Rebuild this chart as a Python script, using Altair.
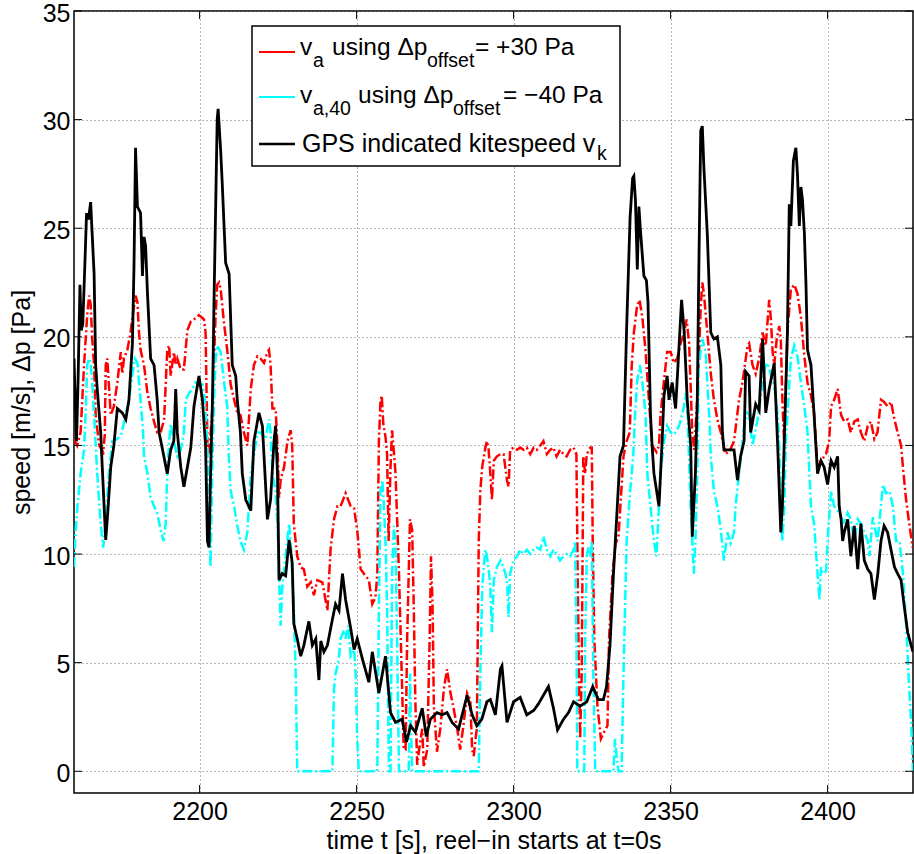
import altair as alt
import pandas as pd

# ---------------- data ----------------
# v_a using dp_offset = +30 Pa   [time t (s), speed (m/s)]
red = [
    [2160.0, 15.3], [2161.0, 15.0], [2162.1, 15.6], [2163.2, 18.7], [2164.2, 21.0], [2164.8, 21.9],
    [2165.3, 21.5], [2165.8, 19.9], [2166.4, 18.7], [2166.9, 16.4], [2168.0, 15.0], [2169.3, 14.7],
    [2169.8, 15.5], [2170.1, 18.7], [2170.6, 19.0], [2171.7, 16.4], [2172.7, 16.8], [2173.8, 17.9],
    [2174.9, 19.3], [2175.4, 18.3], [2175.9, 19.0], [2177.0, 19.4], [2178.0, 20.2], [2179.1, 21.4],
    [2179.6, 21.9], [2180.2, 21.6], [2180.7, 20.2], [2181.2, 19.4], [2182.3, 18.7], [2183.4, 17.4],
    [2184.4, 16.7], [2185.5, 16.1], [2186.5, 15.6], [2187.6, 15.6], [2188.7, 16.2], [2189.7, 19.4],
    [2190.3, 19.6], [2190.8, 18.2], [2191.8, 19.3], [2192.4, 18.7], [2192.9, 19.0], [2194.0, 18.5],
    [2195.0, 18.5], [2196.1, 20.3], [2197.2, 20.7], [2198.2, 20.8], [2199.8, 21.0], [2201.4, 20.8],
    [2201.9, 20.2], [2202.5, 15.0], [2203.0, 14.6], [2204.0, 16.5], [2204.6, 19.0], [2205.1, 21.0],
    [2205.6, 22.4], [2206.2, 22.5], [2206.7, 22.2], [2207.8, 20.6], [2208.8, 19.4], [2209.9, 17.8],
    [2211.0, 17.1], [2212.0, 16.5], [2213.0, 16.4], [2214.1, 15.6], [2215.2, 15.0], [2216.3, 17.6],
    [2217.3, 18.7], [2218.4, 19.1], [2219.4, 19.0], [2220.5, 18.8], [2221.6, 19.3], [2222.1, 19.4],
    [2222.6, 18.7], [2223.2, 16.7], [2224.2, 16.7], [2224.8, 15.0], [2225.3, 12.6], [2225.8, 13.4],
    [2226.9, 14.0], [2228.0, 15.2], [2229.0, 15.7], [2229.5, 15.0], [2230.0, 11.4], [2231.1, 9.9],
    [2232.2, 9.4], [2233.2, 9.3], [2234.3, 8.5], [2235.4, 8.7], [2236.4, 8.1], [2237.5, 8.8],
    [2239.1, 8.7], [2240.7, 7.4], [2241.7, 10.2], [2242.8, 11.6], [2243.9, 12.2], [2244.9, 12.2],
    [2246.5, 12.8], [2248.1, 12.2], [2249.2, 12.1], [2250.2, 11.1], [2251.3, 9.3], [2252.3, 9.1],
    [2253.9, 8.8], [2255.0, 7.7], [2256.0, 8.0], [2256.6, 9.1], [2257.1, 15.2], [2257.6, 17.0],
    [2258.0, 17.3], [2258.5, 16.0], [2259.2, 15.4], [2259.7, 14.6], [2260.2, 10.6], [2260.8, 14.0],
    [2261.3, 15.7], [2261.6, 15.2], [2262.4, 13.7], [2263.5, 9.1], [2264.5, 3.8], [2265.0, 1.0],
    [2265.6, 1.0], [2266.1, 6.1], [2267.0, 11.6], [2267.7, 11.1], [2268.2, 7.6], [2268.7, 3.3],
    [2269.3, 0.3], [2269.8, 0.9], [2270.9, 1.95], [2271.4, 0.2], [2272.5, 1.0], [2273.3, 6.4],
    [2273.7, 9.9], [2274.2, 7.6], [2274.6, 3.0], [2275.6, 0.9], [2276.7, 2.0], [2277.8, 3.8],
    [2278.8, 4.7], [2279.9, 3.6], [2280.9, 2.9], [2282.0, 2.0], [2283.0, 1.0], [2284.1, 2.2],
    [2285.2, 3.6], [2286.2, 3.3], [2286.8, 1.0], [2287.3, 0.7], [2288.3, 2.0], [2288.9, 10.6],
    [2289.4, 12.9], [2290.0, 14.0], [2291.0, 14.9], [2291.5, 15.2], [2292.0, 14.9], [2292.6, 13.7],
    [2293.1, 12.5], [2293.7, 14.3], [2294.7, 14.5], [2295.8, 14.6], [2296.8, 14.6], [2297.9, 13.4],
    [2298.4, 13.1], [2298.9, 14.8], [2300.0, 14.9], [2301.1, 14.8], [2302.1, 14.9], [2303.2, 14.8],
    [2304.2, 14.9], [2305.3, 14.6], [2306.4, 14.9], [2307.4, 14.8], [2308.5, 15.0], [2309.5, 15.2],
    [2310.6, 14.6], [2311.7, 14.8], [2312.7, 14.9], [2313.7, 14.5], [2314.8, 14.8], [2315.9, 14.6],
    [2316.9, 14.5], [2318.0, 14.8], [2319.1, 14.9], [2320.0, 14.6], [2320.4, 9.1], [2320.8, 4.5],
    [2321.2, 1.5], [2321.7, 4.5], [2322.2, 14.5], [2322.8, 13.7], [2323.3, 14.6], [2324.4, 14.9],
    [2324.9, 14.9], [2325.2, 10.6], [2325.7, 6.1], [2326.7, 3.0], [2327.8, 1.5], [2328.8, 1.8],
    [2329.9, 2.1], [2330.4, 6.1], [2331.5, 9.1], [2332.5, 10.5], [2333.4, 10.8], [2334.0, 12.2],
    [2335.0, 14.5], [2336.0, 15.2], [2337.0, 15.6], [2337.6, 18.6], [2338.3, 20.2], [2339.3, 21.4],
    [2340.1, 21.7], [2341.0, 20.9], [2342.0, 19.4], [2343.1, 17.1], [2344.1, 15.0], [2345.5, 14.7],
    [2346.3, 15.0], [2346.8, 16.4], [2347.9, 18.0], [2348.9, 19.3], [2350.0, 19.3], [2351.1, 18.8],
    [2352.1, 19.0], [2353.2, 19.7], [2354.3, 20.2], [2355.1, 20.8], [2355.9, 19.7], [2356.9, 15.6],
    [2357.5, 14.8], [2358.5, 17.1], [2359.6, 21.4], [2360.1, 22.5], [2360.6, 22.0], [2361.7, 20.2],
    [2362.8, 18.3], [2363.8, 17.1], [2364.9, 16.2], [2366.0, 15.6], [2367.5, 14.6], [2369.0, 14.8],
    [2370.2, 15.2], [2371.8, 17.1], [2372.9, 17.9], [2374.5, 19.6], [2375.0, 19.7], [2376.1, 18.7],
    [2377.1, 18.3], [2378.2, 19.0], [2379.3, 20.2], [2380.3, 19.6], [2381.4, 21.7], [2381.9, 20.9],
    [2382.5, 19.3], [2383.0, 18.7], [2383.8, 19.9], [2384.6, 20.5], [2385.1, 19.9], [2385.6, 17.1],
    [2386.2, 15.0], [2387.2, 20.2], [2388.3, 22.2], [2389.4, 22.4], [2390.4, 22.0], [2391.5, 20.9],
    [2392.6, 19.1], [2393.6, 17.9], [2394.7, 17.3], [2395.7, 16.5], [2396.8, 14.0], [2397.9, 14.3],
    [2399.5, 14.6], [2400.5, 15.2], [2401.1, 16.8], [2402.1, 17.1], [2403.2, 17.6], [2404.3, 16.4],
    [2405.3, 16.1], [2406.4, 16.2], [2407.4, 15.6], [2408.5, 16.1], [2409.6, 16.2], [2410.6, 15.6],
    [2411.7, 15.2], [2412.8, 15.9], [2413.8, 16.1], [2414.9, 15.3], [2415.9, 15.6], [2417.0, 17.1],
    [2418.0, 17.0], [2419.1, 16.8], [2420.2, 17.0], [2421.3, 16.2], [2422.3, 15.6], [2423.4, 15.0],
    [2424.0, 14.0], [2425.0, 12.5], [2426.0, 11.4], [2427.1, 10.3],
]

# v_a,40 using dp_offset = -40 Pa
cyan = [
    [2160.0, 9.4], [2160.5, 11.0], [2161.1, 12.2], [2162.1, 13.7], [2163.2, 14.8], [2163.7, 16.5],
    [2164.2, 18.7], [2164.8, 19.0], [2165.3, 18.8], [2165.8, 17.9], [2166.4, 16.4], [2167.4, 13.7],
    [2168.5, 11.4], [2169.3, 10.3], [2170.1, 11.4], [2171.1, 13.7], [2172.2, 15.2], [2173.8, 15.3],
    [2175.0, 15.5], [2176.5, 16.4], [2177.5, 17.1], [2178.6, 18.3], [2179.4, 19.0], [2180.2, 18.8],
    [2180.7, 17.9], [2181.2, 17.1], [2182.0, 15.6], [2182.3, 14.5], [2183.4, 13.7], [2184.4, 12.6],
    [2185.5, 12.2], [2186.5, 11.9], [2187.6, 11.1], [2188.5, 10.6], [2189.2, 11.4], [2189.7, 13.7],
    [2190.3, 15.2], [2190.8, 16.0], [2191.8, 15.2], [2192.9, 14.5], [2194.0, 14.8], [2195.0, 15.6],
    [2195.6, 17.1], [2196.6, 17.4], [2197.7, 17.6], [2198.7, 17.9], [2199.8, 17.8], [2200.9, 17.8],
    [2201.7, 17.1], [2202.5, 15.0], [2203.0, 11.0], [2203.5, 9.4], [2204.0, 13.7], [2204.6, 17.1],
    [2205.1, 19.0], [2205.6, 19.6], [2206.7, 19.3], [2207.8, 17.9], [2208.8, 16.8], [2209.3, 14.5],
    [2209.9, 12.9], [2211.0, 12.2], [2212.0, 11.3], [2213.0, 10.6], [2214.1, 10.2], [2215.2, 11.0],
    [2215.7, 12.2], [2216.3, 13.7], [2217.3, 14.5], [2218.0, 15.2], [2218.4, 15.6], [2219.4, 15.6],
    [2221.0, 15.3], [2222.1, 16.2], [2222.6, 15.6], [2223.2, 13.7], [2224.2, 12.9], [2224.8, 11.4],
    [2225.8, 6.7], [2226.3, 8.4], [2227.4, 9.9], [2228.5, 11.4], [2229.0, 10.6], [2230.0, 7.6],
    [2230.6, 4.5], [2231.1, 0.0], [2242.3, 0.0], [2242.8, 3.8], [2243.3, 4.5], [2243.9, 4.85],
    [2244.4, 5.3], [2244.9, 6.1], [2246.0, 6.5], [2246.5, 6.1], [2247.3, 6.7], [2248.1, 5.3],
    [2249.2, 5.6], [2249.7, 4.5], [2250.2, 1.5], [2250.7, 0.0], [2256.6, 0.0], [2257.1, 7.6],
    [2257.6, 12.9], [2258.2, 13.4], [2258.7, 12.2], [2259.2, 10.6], [2259.7, 7.6], [2260.3, 0.0],
    [2260.8, 0.0], [2261.3, 9.1], [2261.9, 11.3], [2262.4, 10.3], [2262.9, 6.1], [2263.5, 0.0],
    [2266.6, 0.0], [2267.0, 4.5], [2267.3, 2.3], [2267.7, 0.0], [2288.9, 0.0], [2289.4, 4.5],
    [2290.0, 8.4], [2290.5, 9.4], [2291.0, 10.2], [2291.5, 9.9], [2292.0, 9.4], [2292.6, 8.4],
    [2293.1, 6.4], [2293.7, 8.8], [2294.7, 9.4], [2295.8, 9.7], [2296.8, 9.4], [2297.9, 8.8],
    [2298.4, 7.1], [2298.9, 9.1], [2300.0, 9.7], [2301.1, 9.9], [2302.1, 10.2], [2303.2, 10.0],
    [2304.2, 10.2], [2305.3, 10.0], [2306.4, 10.2], [2307.4, 10.3], [2308.5, 10.2], [2309.5, 10.8],
    [2310.6, 10.2], [2311.7, 9.9], [2312.7, 10.2], [2313.7, 10.0], [2314.8, 9.7], [2315.9, 9.9],
    [2316.9, 10.0], [2318.0, 9.9], [2319.1, 10.2], [2319.6, 10.6], [2320.1, 4.5], [2320.3, 0.0],
    [2322.5, 0.0], [2322.8, 6.1], [2323.3, 9.9], [2323.8, 10.3], [2324.4, 9.9], [2324.9, 10.6],
    [2325.4, 4.5], [2326.0, 0.0], [2331.8, 0.0], [2332.3, 1.5], [2332.8, 0.7], [2333.4, 0.0],
    [2334.4, 0.0], [2335.0, 4.5], [2336.0, 10.6], [2337.1, 12.9], [2338.1, 14.5], [2338.6, 16.2],
    [2339.3, 17.9], [2340.2, 18.7], [2341.0, 17.9], [2342.0, 16.5], [2342.6, 13.7], [2343.6, 12.2],
    [2344.7, 10.6], [2345.5, 9.9], [2346.3, 12.2], [2346.8, 13.7], [2347.9, 15.2], [2348.9, 15.9],
    [2350.0, 15.6], [2351.1, 15.5], [2352.7, 15.9], [2354.3, 16.8], [2354.8, 17.4], [2355.3, 16.8],
    [2356.4, 12.2], [2357.4, 9.1], [2357.9, 10.6], [2358.5, 13.7], [2359.0, 18.7], [2360.1, 19.9],
    [2361.2, 19.3], [2361.7, 17.9], [2362.3, 16.4], [2362.8, 14.5], [2363.8, 12.9], [2364.9, 12.2],
    [2366.0, 11.1], [2367.0, 9.7], [2368.1, 11.0], [2369.1, 10.5], [2370.2, 11.0], [2370.7, 12.2],
    [2371.8, 13.7], [2372.9, 15.2], [2373.4, 15.9], [2374.5, 16.5], [2375.0, 16.4], [2376.1, 15.0],
    [2377.7, 16.2], [2379.3, 17.9], [2380.3, 18.7], [2380.9, 18.8], [2382.0, 18.2], [2383.0, 17.8],
    [2384.1, 16.4], [2384.6, 15.0], [2385.1, 12.2], [2385.6, 10.6], [2386.2, 12.2], [2386.7, 15.2],
    [2387.2, 16.4], [2388.3, 19.0], [2389.4, 19.6], [2390.4, 19.1], [2391.5, 17.9], [2392.6, 16.8],
    [2393.6, 15.6], [2394.2, 13.7], [2394.7, 12.2], [2395.7, 11.4], [2396.8, 9.1], [2397.4, 7.9],
    [2397.9, 9.4], [2398.4, 9.1], [2399.5, 9.2], [2400.0, 10.6], [2401.1, 12.9], [2402.1, 12.2],
    [2403.2, 12.0], [2404.3, 11.7], [2405.3, 11.4], [2406.4, 11.9], [2407.4, 11.6], [2408.5, 10.6],
    [2409.6, 11.6], [2410.6, 11.4], [2411.7, 11.0], [2412.8, 10.6], [2413.3, 9.9], [2414.4, 11.7],
    [2415.9, 10.6], [2417.0, 12.2], [2417.6, 13.2], [2418.6, 12.8], [2419.7, 12.9], [2420.8, 12.2],
    [2421.8, 10.6], [2422.9, 10.6], [2424.0, 9.1], [2425.0, 6.8], [2425.5, 5.3], [2426.0, 3.8],
    [2426.6, 2.3], [2427.2, 0.0],
]

# GPS indicated kitespeed v_k
black = [
    [2160.0, 19.0], [2160.4, 17.0], [2160.8, 15.2], [2161.3, 18.0], [2161.9, 22.4], [2162.3, 20.3],
    [2162.8, 20.6], [2163.5, 23.5], [2164.0, 25.7], [2164.6, 25.4], [2165.3, 26.2], [2165.7, 25.0],
    [2166.4, 22.9], [2166.9, 18.7], [2167.4, 17.6], [2168.5, 15.6], [2169.0, 14.0], [2170.1, 10.65],
    [2170.8, 12.0], [2171.7, 14.0], [2172.7, 15.0], [2173.8, 16.7], [2175.4, 16.5], [2176.5, 16.2],
    [2177.5, 17.1], [2178.6, 19.7], [2179.1, 23.2], [2179.6, 28.7], [2180.2, 26.0], [2181.2, 25.7],
    [2181.8, 22.8], [2182.3, 24.6], [2182.8, 24.2], [2183.4, 22.0], [2184.4, 19.0], [2185.5, 18.7],
    [2186.5, 17.1], [2187.1, 15.6], [2188.2, 14.8], [2189.7, 13.7], [2190.8, 14.8], [2191.8, 15.2],
    [2192.4, 17.6], [2192.9, 15.6], [2194.0, 14.0], [2195.0, 13.1], [2196.1, 14.0], [2197.2, 14.9],
    [2198.2, 16.8], [2199.8, 18.2], [2200.9, 17.1], [2201.9, 15.0], [2202.5, 10.6], [2203.0, 10.3],
    [2203.5, 13.7], [2204.1, 17.1], [2204.6, 21.7], [2205.6, 30.0], [2205.9, 30.5], [2206.7, 28.6],
    [2207.2, 27.1], [2208.3, 23.4], [2209.4, 22.9], [2210.4, 18.7], [2211.5, 18.2], [2212.0, 17.1],
    [2213.0, 15.6], [2213.6, 13.7], [2214.7, 12.5], [2216.3, 12.0], [2217.3, 15.2], [2218.9, 16.5],
    [2220.0, 15.9], [2221.6, 11.6], [2222.6, 12.5], [2223.7, 15.2], [2224.2, 15.9], [2224.8, 13.7],
    [2225.3, 8.8], [2226.3, 9.1], [2227.4, 9.0], [2228.5, 10.65], [2229.5, 9.6], [2230.0, 6.8],
    [2231.1, 6.1], [2232.2, 5.3], [2233.2, 5.8], [2234.8, 6.9], [2235.9, 5.8], [2237.0, 6.1],
    [2238.0, 4.2], [2238.6, 6.0], [2239.6, 5.5], [2240.7, 5.8], [2242.3, 7.0], [2243.3, 7.7],
    [2244.4, 7.4], [2245.5, 9.1], [2246.5, 7.9], [2248.1, 6.6], [2249.2, 5.6], [2250.2, 6.1],
    [2251.8, 5.2], [2253.9, 4.1], [2255.0, 5.5], [2257.1, 3.6], [2259.2, 5.3], [2260.8, 2.7],
    [2262.4, 2.25], [2264.5, 2.4], [2265.9, 1.35], [2267.2, 2.1], [2268.7, 1.8], [2270.9, 2.9],
    [2272.2, 1.6], [2273.5, 2.4], [2275.6, 2.7], [2277.2, 2.6], [2278.8, 2.7], [2280.4, 2.25],
    [2282.5, 1.95], [2285.2, 3.5], [2286.8, 2.6], [2288.3, 2.1], [2289.9, 2.4], [2291.5, 3.2],
    [2292.6, 3.3], [2294.2, 2.6], [2295.8, 4.7], [2296.3, 4.85], [2297.9, 2.25], [2300.0, 3.2],
    [2302.1, 3.4], [2304.2, 2.6], [2306.4, 2.8], [2307.9, 3.1], [2309.5, 3.5], [2311.1, 3.9],
    [2312.7, 2.9], [2314.0, 1.9], [2315.9, 2.4], [2317.5, 2.7], [2319.1, 3.2], [2321.2, 3.0],
    [2323.3, 3.2], [2325.2, 3.9], [2327.0, 3.3], [2328.6, 3.3], [2329.6, 3.9], [2330.7, 5.8],
    [2331.8, 9.1], [2332.8, 11.6], [2333.9, 14.5], [2335.0, 15.0], [2336.0, 20.4], [2337.1, 25.5],
    [2337.9, 27.3], [2338.3, 27.4], [2338.8, 26.3], [2339.4, 23.1], [2339.9, 26.0], [2340.4, 24.9],
    [2341.5, 22.8], [2342.3, 22.6], [2342.8, 21.6], [2343.6, 16.4], [2344.1, 15.0], [2344.7, 13.7],
    [2346.3, 12.2], [2347.3, 15.2], [2347.9, 17.3], [2348.9, 18.2], [2349.5, 17.1], [2350.5, 17.9],
    [2351.6, 16.7], [2352.7, 19.6], [2353.5, 21.7], [2354.3, 20.3], [2355.3, 17.1], [2356.4, 15.0],
    [2356.9, 10.8], [2357.9, 13.7], [2358.5, 17.1], [2359.0, 23.2], [2359.6, 29.5], [2360.1, 29.7],
    [2360.6, 27.8], [2361.7, 24.7], [2362.8, 20.2], [2363.8, 19.9], [2364.9, 20.0], [2366.0, 18.7],
    [2366.5, 15.6], [2367.0, 14.8], [2368.6, 14.8], [2370.2, 14.8], [2371.3, 13.4], [2372.3, 14.5],
    [2373.4, 15.2], [2373.9, 18.4], [2375.0, 18.2], [2375.5, 15.6], [2377.1, 16.9], [2378.2, 16.6],
    [2379.3, 19.9], [2380.3, 16.5], [2381.4, 17.6], [2383.0, 18.8], [2384.1, 15.0], [2385.1, 11.0],
    [2385.6, 12.2], [2386.2, 15.2], [2387.2, 20.2], [2387.8, 26.1], [2388.3, 25.1], [2389.1, 28.1],
    [2389.9, 28.7], [2390.4, 27.5], [2391.0, 25.1], [2391.5, 26.9], [2392.0, 26.3], [2392.6, 24.8],
    [2393.1, 22.5], [2393.6, 19.4], [2394.7, 18.7], [2395.7, 16.4], [2396.8, 13.7], [2397.9, 14.3],
    [2398.9, 14.0], [2400.0, 13.2], [2401.1, 14.3], [2402.1, 14.0], [2403.2, 14.5], [2403.7, 12.2],
    [2404.3, 11.6], [2404.8, 10.6], [2405.3, 11.0], [2406.4, 11.6], [2407.4, 9.9], [2408.5, 11.3],
    [2409.6, 9.3], [2410.6, 11.4], [2411.7, 9.7], [2412.8, 9.3], [2413.8, 9.1], [2414.9, 7.9],
    [2416.0, 9.1], [2417.0, 10.6], [2418.0, 11.3], [2419.1, 11.0], [2420.2, 10.2], [2421.3, 9.4],
    [2422.3, 9.1], [2423.4, 8.8], [2424.4, 7.6], [2425.5, 6.4], [2426.6, 5.8], [2427.2, 5.5],
]

x_ticks = [2200, 2250, 2300, 2350, 2400]
y_ticks = [0, 5, 10, 15, 20, 25, 30, 35]
x_title = "time t [s], reel\u2212in starts at t=0s"
y_title = "speed [m/s], \u0394p [Pa]"

# ---------------- chart ----------------
FONT = "Liberation Sans"
FS = 25
W, H = 839, 782


def frame(rows):
    df = pd.DataFrame(rows, columns=["t", "v"])
    df["i"] = range(len(df))
    return df


xscale = alt.Scale(domain=[2160, 2427.2], nice=False, zero=False)
yscale = alt.Scale(domain=[-1, 35], nice=False, zero=False)
xaxis = alt.Axis(values=x_ticks, format="d", title=x_title, labelPadding=6,
                 titleY=55, titleBaseline="alphabetic")
yaxis = alt.Axis(values=y_ticks, format="d", title=y_title, labelPadding=4,
                 labelOffset=2,
                 titleX=-45, titleY=H / 2, titleAngle=270,
                 titleBaseline="alphabetic", titleAlign="center")
X = alt.X("t:Q", scale=xscale, axis=xaxis)
Y = alt.Y("v:Q", scale=yscale, axis=yaxis)

DASH = [10, 3, 2, 3]
red_line = alt.Chart(frame(red)).mark_line(
    color="#ff0000", strokeWidth=2.5, strokeDash=DASH, clip=True
).encode(x=X, y=Y, order="i:Q")
cyan_line = alt.Chart(frame(cyan)).mark_line(
    color="#00ffff", strokeWidth=2.5, strokeDash=DASH, clip=True
).encode(x=X, y=Y, order="i:Q")
black_line = alt.Chart(frame(black)).mark_line(
    color="#000000", strokeWidth=2.8, clip=True
).encode(x=X, y=Y, order="i:Q")

xt = pd.DataFrame({"t": x_ticks})
yt = pd.DataFrame({"v": y_ticks})
tick_b = alt.Chart(xt).mark_rule(color="black", strokeWidth=1).encode(
    x=X, y=alt.value(H), y2=alt.value(H - 8))
tick_t = alt.Chart(xt).mark_rule(color="black", strokeWidth=1).encode(
    x=X, y=alt.value(0), y2=alt.value(8))
tick_l = alt.Chart(yt).mark_rule(color="black", strokeWidth=1).encode(
    y=Y, x=alt.value(0), x2=alt.value(8))
tick_r = alt.Chart(yt).mark_rule(color="black", strokeWidth=1).encode(
    y=Y, x=alt.value(W), x2=alt.value(W - 8))

# ---------------- legend (manual, to allow subscripts) ----------------
one = pd.DataFrame({"k": [0]})


def txt(s, x, y, size=24.5):
    return alt.Chart(one).mark_text(
        text=s, align="left", baseline="alphabetic", font=FONT, fontSize=size, color="black"
    ).encode(x=alt.value(x), y=alt.value(y))


def sample(color, y, width):
    return alt.Chart(one).mark_rule(color=color, strokeWidth=width).encode(
        x=alt.value(185), x2=alt.value(221), y=alt.value(y))


leg_box = alt.Chart(one).mark_rect(fill="white", stroke="black", strokeWidth=1.5).encode(
    x=alt.value(178), x2=alt.value(546), y=alt.value(15), y2=alt.value(155))

SUB = 19.5
legend = [
    leg_box,
    sample("#ff0000", 41, 2), sample("#00ffff", 86, 2), sample("#000000", 133, 2.5),
    txt("v", 226, 44), txt("a", 239, 55.5, SUB), txt("using \u0394p", 258, 44),
    txt("offset", 353, 55.5, SUB), txt("= +30 Pa", 401, 44),
    txt("v", 226, 92), txt("a,40", 239, 103.5, SUB), txt("using \u0394p", 284, 92),
    txt("offset", 379, 103.5, SUB), txt("= \u221240 Pa", 429, 92),
    txt("GPS indicated kitespeed v", 228, 140.5, 25), txt("k", 523, 149, SUB),
]

chart = alt.layer(
    red_line, cyan_line, black_line, tick_b, tick_t, tick_l, tick_r, *legend
).properties(
    width=W, height=H,
    autosize=alt.AutoSizeParams(type="none"),
    padding={"left": 74, "top": 11, "right": 1, "bottom": 61},
    background="white",
).configure_axis(
    labelFont=FONT, labelFontSize=FS, labelColor="black",
    titleFont=FONT, titleFontSize=FS, titleFontWeight="normal", titleColor="black",
    grid=True, gridColor="#6e6e6e", gridDash=[1, 3], gridWidth=1,
    domain=False, ticks=False,
).configure_view(stroke="black", strokeWidth=1.5)

chart.save("out.html", embed_options={"renderer": "svg", "actions": False})
